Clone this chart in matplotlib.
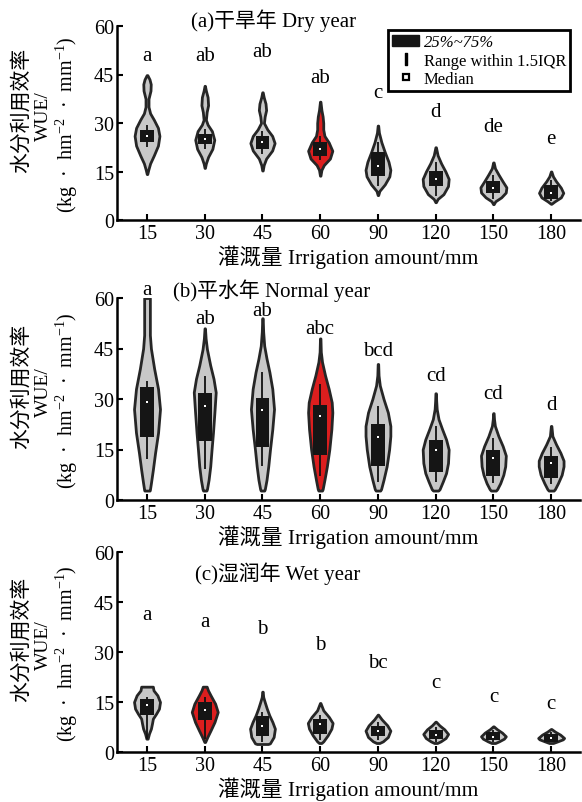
import matplotlib
matplotlib.use('Agg')
import matplotlib.pyplot as plt
from matplotlib.patches import Patch
from matplotlib.lines import Line2D

plt.rcParams['font.family'] = ['Liberation Serif', 'Noto Sans CJK SC']
plt.rcParams['mathtext.fontset'] = 'custom'
plt.rcParams['mathtext.rm'] = 'Liberation Serif'
plt.rcParams['mathtext.it'] = 'Liberation Serif:italic'

irrigation = ['15', '30', '45', '60', '90', '120', '150', '180']
titles = ['(a)干旱年 Dry year', '(b)平水年 Normal year', '(c)湿润年 Wet year']
title_xy = [(2.2, 61.9), (2.15, 62.5), (2.27, 53.9)]

# significance letters and their heights
letters_dry = ['a', 'ab', 'ab', 'ab', 'c', 'd', 'de', 'e']
letters_dry_y = [50.8, 50.8, 52.2, 44.1, 39.3, 33.5, 29.0, 25.1]
letters_normal = ['a', 'ab', 'ab', 'abc', 'bcd', 'cd', 'cd', 'd']
letters_normal_y = [62.5, 53.8, 56.2, 51.0, 44.3, 36.9, 31.7, 28.5]
letters_wet = ['a', 'a', 'b', 'b', 'bc', 'c', 'c', 'c']
letters_wet_y = [41.4, 39.1, 36.9, 32.1, 26.7, 20.7, 16.7, 14.4]

# violin outlines: heights and relative half widths
dry_y = [
    [14.2, 15.5, 17.5, 20, 23, 26, 28.5, 31, 33, 35, 37.5, 40, 42, 43.5, 44.8],
    [16.1, 17.5, 19.5, 22, 24.8, 27.5, 29.5, 31, 33.4, 35.5, 38, 40, 41.5],
    [15.3, 17, 19, 21.5, 23.8, 26, 28, 30, 32, 34, 36, 38, 39.5],
    [13.7, 15.5, 17, 19, 21.4, 24, 26, 28, 30, 32, 34, 36.6],
    [7.7, 9, 11, 13.5, 15.5, 18, 21, 24, 27, 29.2],
    [5.5, 6.5, 8, 10.5, 12.7, 15, 17.5, 20, 22.5],
    [4.9, 5.8, 7, 8.5, 10.1, 12, 14, 16, 17.8],
    [5.0, 5.8, 7, 8.4, 10, 12, 13.5, 15],
]
dry_w = [
    [0.02, 0.1, 0.25, 0.55, 0.88, 1.0, 0.88, 0.55, 0.25, 0.12, 0.12, 0.28, 0.3, 0.2, 0.03],
    [0.02, 0.12, 0.35, 0.8, 1.0, 0.75, 0.3, 0.12, 0.2, 0.35, 0.3, 0.12, 0.02],
    [0.02, 0.1, 0.3, 0.8, 1.0, 0.8, 0.4, 0.12, 0.18, 0.3, 0.25, 0.1, 0.02],
    [0.02, 0.1, 0.3, 0.8, 1.0, 0.7, 0.35, 0.25, 0.25, 0.2, 0.1, 0.02],
    [0.02, 0.12, 0.55, 0.92, 1.0, 0.85, 0.55, 0.28, 0.08, 0.02],
    [0.02, 0.15, 0.6, 0.95, 1.0, 0.75, 0.42, 0.15, 0.02],
    [0.02, 0.15, 0.6, 0.95, 1.0, 0.7, 0.4, 0.12, 0.02],
    [0.02, 0.3, 0.8, 1.0, 0.8, 0.4, 0.15, 0.02],
]
dry_width = [0.43, 0.33, 0.42, 0.42, 0.43, 0.45, 0.45, 0.42]
dry_q1 = [24.0, 23.5, 22.0, 19.9, 13.7, 10.6, 8.3, 6.5]
dry_q3 = [27.9, 26.5, 25.9, 24.0, 20.9, 15.3, 12.2, 10.8]
dry_med = [26.0, 25.0, 24.0, 22.0, 16.8, 12.8, 10.0, 8.5]
dry_lo = [22.5, 22.0, 20.5, 18.5, 10.5, 7.5, 6.5, 6.0]
dry_hi = [29.5, 28.0, 27.5, 26.0, 24.0, 18.0, 14.0, 12.5]

normal_y = [
    [2.8, 3, 5, 9, 14, 20, 27, 33, 39, 45, 49, 55, 60],
    [2.8, 3.2, 6, 10, 15, 20, 26, 32, 36, 40, 44.8, 48, 51],
    [2.8, 3.2, 6, 10, 15, 21, 27, 33, 38, 42, 45.8, 50, 54],
    [2.8, 3.2, 6, 10, 15, 21, 26, 29, 33, 37, 41, 44, 48],
    [2.8, 3.2, 6, 10, 15, 19, 22, 26, 30, 34, 37, 40.4],
    [2.8, 3.2, 5.5, 8, 11, 15, 18, 21, 24, 27, 29.5, 31.7],
    [2.8, 3.2, 5, 7.5, 10, 13.2, 16, 19, 22, 24, 25.8],
    [2.8, 3.2, 5, 7.5, 10, 11.7, 14, 16.5, 19, 22],
]
normal_w = [
    [0.2, 0.22, 0.3, 0.45, 0.62, 0.85, 1.0, 0.85, 0.55, 0.3, 0.22, 0.22, 0.22],
    [0.15, 0.2, 0.35, 0.5, 0.62, 0.75, 0.88, 1.0, 0.8, 0.5, 0.2, 0.08, 0.02],
    [0.15, 0.2, 0.35, 0.5, 0.65, 0.85, 1.0, 0.85, 0.6, 0.35, 0.15, 0.06, 0.02],
    [0.15, 0.2, 0.35, 0.55, 0.75, 0.92, 1.0, 0.95, 0.7, 0.4, 0.15, 0.05, 0.02],
    [0.18, 0.25, 0.45, 0.7, 0.9, 1.0, 1.0, 0.8, 0.45, 0.15, 0.05, 0.02],
    [0.2, 0.3, 0.55, 0.8, 0.95, 1.0, 0.8, 0.5, 0.22, 0.08, 0.04, 0.02],
    [0.2, 0.3, 0.55, 0.8, 0.95, 1.0, 0.75, 0.4, 0.12, 0.05, 0.02],
    [0.2, 0.3, 0.55, 0.85, 1.0, 1.0, 0.75, 0.4, 0.1, 0.02],
]
normal_width = [0.45, 0.38, 0.40, 0.42, 0.43, 0.45, 0.43, 0.43]
normal_q1 = [18.8, 17.6, 15.8, 13.5, 10.2, 8.4, 7.2, 6.4]
normal_q3 = [33.5, 31.8, 30.2, 28.2, 22.6, 17.9, 15.0, 13.2]
normal_med = [29.0, 28.0, 26.7, 24.9, 18.6, 14.8, 12.4, 10.9]
normal_lo = [12.2, 9.2, 10.2, 7.2, 5.3, 5.3, 5.0, 4.8]
normal_hi = [35.2, 36.7, 38.1, 34.5, 28.0, 22.0, 18.3, 15.6]

wet_y = [
    [4, 5.5, 7, 8.5, 10, 11.5, 13, 15, 17, 18.5, 19.6],
    [3, 4.5, 6.5, 9, 12, 14.5, 17, 18.5, 19.6],
    [2.4, 2.6, 4.5, 7, 9, 11, 13, 15, 16.5, 18.1],
    [2.7, 3.2, 5, 7, 8.7, 10.5, 12.5, 14.7],
    [2.7, 3.2, 4.5, 6.4, 8, 9.8, 11.2],
    [2.7, 3.2, 4.2, 5.4, 6.8, 8, 9.1],
    [2.7, 3.2, 4, 4.7, 5.8, 6.8, 7.7],
    [2.7, 3.2, 3.8, 4.2, 5.2, 6.1, 6.9],
]
wet_w = [
    [0.05, 0.15, 0.3, 0.38, 0.45, 0.7, 0.92, 1.0, 0.8, 0.5, 0.45],
    [0.03, 0.2, 0.45, 0.75, 1.0, 0.8, 0.45, 0.25, 0.15],
    [0.45, 0.6, 0.9, 1.0, 0.8, 0.55, 0.35, 0.18, 0.06, 0.02],
    [0.1, 0.25, 0.6, 0.9, 1.0, 0.7, 0.25, 0.02],
    [0.12, 0.4, 0.8, 1.0, 0.75, 0.3, 0.02],
    [0.12, 0.4, 0.8, 1.0, 0.7, 0.3, 0.02],
    [0.15, 0.45, 0.85, 1.0, 0.7, 0.3, 0.02],
    [0.15, 0.5, 0.9, 1.0, 0.7, 0.3, 0.02],
]
wet_width = [0.45, 0.45, 0.43, 0.43, 0.43, 0.43, 0.43, 0.45]
wet_q1 = [11.0, 9.5, 4.9, 5.4, 4.7, 3.9, 3.7, 3.1]
wet_q3 = [15.8, 15.0, 10.7, 9.9, 7.7, 6.7, 5.9, 5.4]
wet_med = [14.2, 12.5, 7.7, 8.4, 6.2, 5.2, 4.5, 4.2]
wet_lo = [4.0, 4.0, 3.0, 3.5, 3.5, 3.0, 3.0, 3.0]
wet_hi = [16.5, 16.5, 12.0, 11.0, 9.0, 7.5, 6.5, 6.0]

GRAY = '#c8c8c8'
RED = '#dc1e1e'
EDGE = '#262626'

W, H = 582, 803
fig = plt.figure(figsize=(W / 100, H / 100), dpi=100)


def px_axes(top, bottom):
    # axes box from pixel rows, left edge at x=117, right at 580
    return [117 / W, 1 - bottom / H, (580 - 117) / W, (bottom - top) / H]


def draw_panel(ax, ys, ws, widths, q1, q3, med, lo, hi, red, letters, letter_y, title, txy):
    pos = list(range(len(irrigation)))
    stats = []
    for i in pos:
        stats.append(dict(coords=ys[i], vals=ws[i], mean=med[i], median=med[i],
                          min=ys[i][0], max=ys[i][-1]))
    parts = ax.violin(stats, positions=pos, widths=widths, showextrema=False)
    for i, body in enumerate(parts['bodies']):
        body.set_facecolor(RED if i == red else GRAY)
        body.set_edgecolor(EDGE)
        body.set_linewidth(2.0)
        body.set_alpha(1)
        body.set_zorder(2)
    ax.vlines(pos, lo, hi, color='#111111', lw=1.3, zorder=3)
    ax.bar(pos, [b - a for a, b in zip(q1, q3)], bottom=q1, width=0.24,
           color='#151515', zorder=4)
    ax.plot(pos, med, 's', ms=1.6, color='white', mew=0, zorder=5)
    for p, lab, y in zip(pos, letters, letter_y):
        ax.text(p, y, lab, ha='center', va='center', fontsize=15, clip_on=False)
    ax.text(txy[0], txy[1], title, ha='center', va='center', fontsize=15, clip_on=False)

    ax.set_xlim(-0.52, 7.5)
    ax.set_ylim(0, 60)
    ax.set_yticks([0, 15, 30, 45, 60])
    ax.set_xticks(pos)
    ax.set_xticklabels(irrigation)
    ax.spines['top'].set_visible(False)
    ax.spines['right'].set_visible(False)
    ax.spines['left'].set_linewidth(1.8)
    ax.spines['bottom'].set_linewidth(1.8)
    ax.tick_params(direction='in', length=4, width=1.5, labelsize=14.5)
    ax.tick_params(axis='x', pad=3)
    ax.tick_params(axis='y', pad=2)
    ax.set_xlabel('灌溉量 Irrigation amount/mm', fontsize=15.5, labelpad=1)


def ylabel(center):
    fig.text(22 / W, 1 - (center - 14) / H, '水分利用效率', rotation=90,
             ha='center', va='center', fontsize=15)
    fig.text(43 / W, 1 - (center - 8) / H, 'WUE/', rotation=90,
             ha='center', va='center', fontsize=14)
    fig.text(67 / W, 1 - (center + 1) / H, '(kg  ·  hm$^{-2}$  ·  mm$^{-1}$)', rotation=90,
             ha='center', va='center', fontsize=14.5)


ax_a = fig.add_axes(px_axes(27, 221))
draw_panel(ax_a, dry_y, dry_w, dry_width, dry_q1, dry_q3, dry_med, dry_lo, dry_hi, 3,
           letters_dry, letters_dry_y, titles[0], title_xy[0])
ylabel(124)

ax_b = fig.add_axes(px_axes(299, 501))
draw_panel(ax_b, normal_y, normal_w, normal_width, normal_q1, normal_q3, normal_med,
           normal_lo, normal_hi, 3, letters_normal, letters_normal_y, titles[1], title_xy[1])
ylabel(400)

ax_c = fig.add_axes(px_axes(553, 753))
draw_panel(ax_c, wet_y, wet_w, wet_width, wet_q1, wet_q3, wet_med, wet_lo, wet_hi, 1,
           letters_wet, letters_wet_y, titles[2], title_xy[2])
ylabel(653)

handles = [
    Patch(facecolor='#151515', edgecolor='#151515'),
    Line2D([], [], marker=r'$\mathbf{I}$', color='black', linestyle='none', markersize=8),
    Line2D([], [], marker='s', mfc='white', mec='black', mew=1.6, linestyle='none', markersize=5),
]
labels = ['25%~75%', 'Range within 1.5IQR', 'Median']
leg = ax_a.legend(handles, labels, loc='upper left', bbox_to_anchor=(388 / W, 1 - 31 / H),
                  bbox_transform=fig.transFigure, fancybox=False, framealpha=1,
                  edgecolor='black', fontsize=12, handlelength=1.6, handletextpad=0.3,
                  labelspacing=0.15, borderpad=0.25, borderaxespad=0)
leg.get_frame().set_linewidth(2)
leg.get_texts()[0].set_style('italic')

fig.savefig('out.png', dpi=100)
